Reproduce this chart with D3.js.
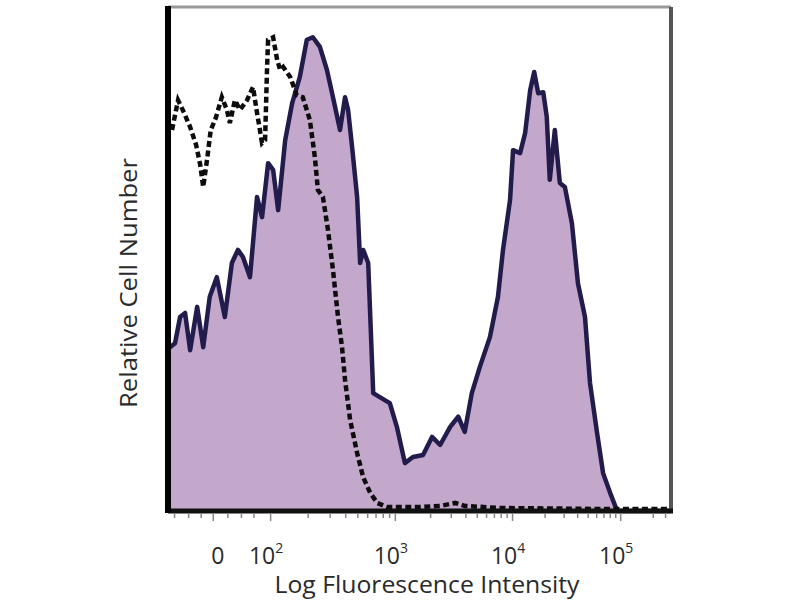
<!DOCTYPE html>
<html>
<head>
<meta charset="utf-8">
<script src="https://cdn.jsdelivr.net/npm/d3@7"></script>
<style>
  body { margin: 0; background: #fff; }
  text { font-family: "Open Sans", sans-serif; fill: #2a2a2a; }
</style>
</head>
<body>
<div id="chart"></div>
<script>
// histogram bins: display channel (0-1000) and relative count (0-100)
var stainedChannel = [0, 4, 14, 24, 34, 44, 58, 70, 83, 97, 113, 127, 139, 149, 163, 177, 187, 199, 209, 219, 233, 247, 262, 276, 288, 302, 316, 328, 342, 352, 358, 366, 376, 382, 388, 398, 408, 421, 441, 455, 471, 487, 507, 525, 541, 561, 577, 590, 604, 620, 640, 656, 666, 680, 686, 700, 710, 720, 728, 736, 746, 753, 759, 769, 779, 789, 803, 815, 829, 839, 853, 865, 879, 893, 1000];
var stainedCount = [32, 32.5, 33.3, 38.5, 39.3, 31.9, 40.5, 32.5, 42.5, 46.4, 38.5, 49.2, 51.8, 50.4, 46.4, 62.3, 58.3, 69.0, 67.7, 59.7, 73.6, 81.0, 86.1, 93.5, 94.0, 92.1, 87.5, 82.1, 75.6, 82.1, 79.6, 72.2, 62.3, 49.2, 51.8, 49.2, 23.4, 22.6, 21.4, 16.7, 9.5, 10.7, 11.1, 14.7, 13.1, 16.7, 18.7, 15.7, 23.4, 28.6, 34.5, 42.5, 51.8, 61.7, 71.6, 71.0, 75.0, 83.5, 87.1, 82.9, 83.1, 78.2, 65.7, 75.6, 65.1, 64.3, 57.1, 45.2, 38.5, 25.4, 15.5, 7.5, 3.6, 0, 0];

var controlChannel = [8, 20, 32, 44, 56, 64, 70, 78, 85, 95, 107, 117, 123, 133, 143, 157, 169, 177, 187, 193, 197, 199, 209, 217, 223, 229, 243, 256, 268, 282, 292, 298, 308, 318, 328, 338, 346, 352, 362, 376, 388, 402, 416, 435, 501, 541, 571, 590, 660, 859, 1000];
var controlCount = [75.6, 81.5, 79.0, 76.2, 72.6, 68.7, 64.3, 70.0, 75.6, 78.0, 82.1, 79.6, 77.0, 81.5, 79.6, 81.5, 84.1, 79.0, 73.0, 73.6, 88.1, 93.5, 94.0, 89.5, 87.5, 88.1, 86.1, 82.5, 82.1, 77.6, 70.2, 63.7, 62.3, 55.8, 47.8, 38.5, 32.5, 26.0, 18.1, 11.5, 6.7, 3.6, 1.6, 0.8, 0.8, 1.0, 1.6, 1.0, 0.6, 0.4, 0.4];

// where the labelled decades fall on the display channel axis
var tickChannels = [89, 203, 451, 684, 899];
var tickBase = ["0", "10", "10", "10", "10"];
var tickExp = ["", "2", "3", "4", "5"];
var linearMinorTicks = [12, 40, 65, 118, 145, 170];

var svgWidth = 800;
var svgHeight = 600;
var margin = { top: 7, right: 129, bottom: 89, left: 168 };
var width = svgWidth - margin.left - margin.right;
var height = svgHeight - margin.top - margin.bottom;

var svg = d3.select("#chart")
    .append("svg")
    .attr("width", svgWidth)
    .attr("height", svgHeight);

var chartGroup = svg.append("g")
    .attr("transform", `translate(${margin.left}, ${margin.top})`);

var xScale = d3.scaleLinear().domain([0, 1000]).range([0, width]);
var yScale = d3.scaleLinear().domain([0, 100]).range([height, 0]);

var stained = stainedChannel.map((c, i) => ({ x: c, y: stainedCount[i] }));
var control = controlChannel.map((c, i) => ({ x: c, y: controlCount[i] }));

// filled histogram
var area = d3.area()
    .x(d => xScale(d.x))
    .y0(height)
    .y1(d => yScale(d.y));

chartGroup.append("path")
    .datum(stained)
    .attr("d", area)
    .attr("fill", "#c3a8cc");

var line = d3.line()
    .x(d => xScale(d.x))
    .y(d => yScale(d.y));

chartGroup.append("path")
    .datum(stained)
    .attr("d", line)
    .attr("fill", "none")
    .attr("stroke", "#221c4c")
    .attr("stroke-width", 4.5)
    .attr("stroke-linejoin", "round");

// isotype control, dashed
chartGroup.append("path")
    .datum(control)
    .attr("d", line)
    .attr("fill", "none")
    .attr("stroke", "#0d0d0d")
    .attr("stroke-width", 4.5)
    .attr("stroke-dasharray", "6,3.5");

// frame
chartGroup.append("line")
    .attr("x1", 0).attr("x2", width).attr("y1", 0).attr("y2", 0)
    .attr("stroke", "#999").attr("stroke-width", 3);
chartGroup.append("line")
    .attr("x1", width).attr("x2", width).attr("y1", 0).attr("y2", height)
    .attr("stroke", "#555").attr("stroke-width", 4);
chartGroup.append("line")
    .attr("x1", 0).attr("x2", width + 2).attr("y1", height).attr("y2", height)
    .attr("stroke", "#111").attr("stroke-width", 5);
chartGroup.append("line")
    .attr("x1", 0).attr("x2", 0).attr("y1", -1).attr("y2", height + 2)
    .attr("stroke", "#000").attr("stroke-width", 6);

// minor ticks: log steps inside each decade, linear below 10^2
var minorTicks = linearMinorTicks.slice();
for (var i = 1; i < tickChannels.length - 1; i++) {
    var c0 = tickChannels[i], c1 = tickChannels[i + 1];
    for (var m = 2; m < 10; m++) {
        minorTicks.push(c0 + Math.log10(m) * (c1 - c0));
    }
}
var lastSpan = tickChannels[4] - tickChannels[3];
[2, 2.6].forEach(m => minorTicks.push(tickChannels[4] + Math.log10(m) * lastSpan));

var axisGroup = chartGroup.append("g")
    .attr("transform", `translate(0, ${height + 2})`);

axisGroup.call(d3.axisBottom(xScale).tickValues(minorTicks).tickSize(5).tickFormat(""));
axisGroup.append("g").call(d3.axisBottom(xScale).tickValues(tickChannels).tickSize(8).tickFormat(""));
axisGroup.selectAll(".domain").remove();
axisGroup.selectAll(".tick line").attr("stroke", "#888").attr("stroke-width", 1.5);

// tick labels
var labels = chartGroup.selectAll("text.tickLabel")
    .data(tickChannels)
    .enter()
    .append("text")
    .classed("tickLabel", true)
    .attr("x", (d, i) => xScale(d) + (i == 0 ? 5 : -4))
    .attr("y", height + 53)
    .attr("text-anchor", "middle")
    .style("font-size", "23px");

labels.append("tspan").text((d, i) => tickBase[i]);
labels.append("tspan")
    .attr("dy", -11)
    .style("font-size", "14px")
    .text((d, i) => tickExp[i]);

// axis titles
chartGroup.append("text")
    .attr("x", 259)
    .attr("y", height + 82)
    .attr("text-anchor", "middle")
    .attr("textLength", 305)
    .attr("lengthAdjust", "spacingAndGlyphs")
    .style("font-size", "23px")
    .text("Log Fluorescence Intensity");

chartGroup.append("text")
    .attr("transform", `translate(-31, 276) rotate(-90)`)
    .attr("text-anchor", "middle")
    .attr("textLength", 250)
    .attr("lengthAdjust", "spacingAndGlyphs")
    .style("font-size", "23px")
    .text("Relative Cell Number");
</script>
</body>
</html>
